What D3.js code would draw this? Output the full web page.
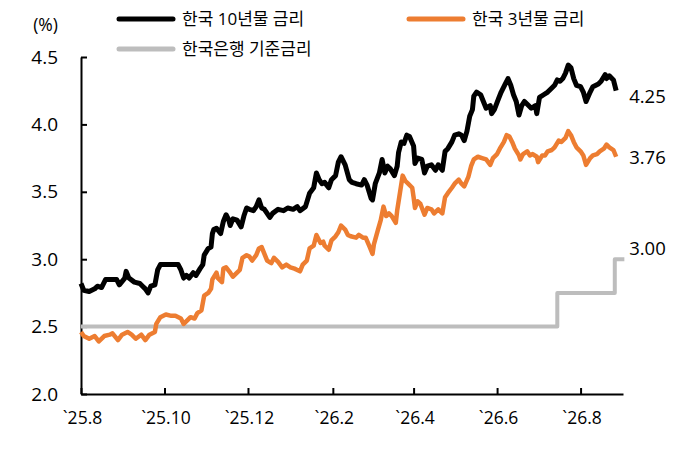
<!DOCTYPE html>
<html>
<head>
<meta charset="utf-8">
<script src="https://cdn.jsdelivr.net/npm/d3@7"></script>
<style>
  body { margin: 0; background: #fff; }
  text { font-family: "Open Sans", "Noto Sans CJK KR", sans-serif; fill: #000; }
</style>
</head>
<body>
<div id="chart"></div>
<script>
// Series names / colours
const seriesNames = ["한국 10년물 금리", "한국 3년물 금리", "한국은행 기준금리"];
const seriesColors = ["#000000", "#ed7d31", "#bdbdbd"];

// 한국 10년물 금리
const dates10y = [
  "2025-08-01","2025-08-03","2025-08-07","2025-08-11","2025-08-13","2025-08-16","2025-08-19","2025-08-23","2025-08-27","2025-08-29",
  "2025-09-02","2025-09-03","2025-09-05","2025-09-09","2025-09-13","2025-09-15","2025-09-17","2025-09-19","2025-09-21","2025-09-24","2025-09-26","2025-09-28",
  "2025-10-02","2025-10-07","2025-10-11","2025-10-13","2025-10-15","2025-10-17","2025-10-19","2025-10-22","2025-10-24","2025-10-27","2025-10-29","2025-10-30",
  "2025-11-02","2025-11-04","2025-11-05","2025-11-06","2025-11-08","2025-11-11","2025-11-13","2025-11-15","2025-11-17","2025-11-18","2025-11-20","2025-11-23","2025-11-26","2025-11-28","2025-11-30",
  "2025-12-02","2025-12-05","2025-12-07","2025-12-09","2025-12-11","2025-12-13","2025-12-17","2025-12-19","2025-12-23","2025-12-27","2025-12-30",
  "2026-01-03","2026-01-06","2026-01-08","2026-01-12","2026-01-15","2026-01-18","2026-01-20","2026-01-22","2026-01-24","2026-01-26","2026-01-29","2026-01-31",
  "2026-02-03","2026-02-05","2026-02-07","2026-02-10","2026-02-13","2026-02-15","2026-02-18","2026-02-22","2026-02-24","2026-02-26",
  "2026-03-01","2026-03-02","2026-03-04","2026-03-07","2026-03-09","2026-03-11","2026-03-13","2026-03-15","2026-03-18","2026-03-20","2026-03-21","2026-03-23","2026-03-25","2026-03-27","2026-03-29",
  "2026-04-01","2026-04-02","2026-04-04","2026-04-07","2026-04-09","2026-04-11","2026-04-14","2026-04-17","2026-04-19","2026-04-22","2026-04-24","2026-04-26","2026-04-29",
  "2026-05-01","2026-05-04","2026-05-06","2026-05-08","2026-05-10","2026-05-12","2026-05-14","2026-05-15","2026-05-17","2026-05-20","2026-05-22","2026-05-24","2026-05-27","2026-05-28","2026-05-30",
  "2026-06-02","2026-06-04","2026-06-07","2026-06-09","2026-06-11","2026-06-13","2026-06-15","2026-06-17","2026-06-19","2026-06-21","2026-06-24","2026-06-26","2026-06-29","2026-06-30",
  "2026-07-02","2026-07-05","2026-07-08","2026-07-11","2026-07-13","2026-07-15","2026-07-17","2026-07-19","2026-07-21","2026-07-23","2026-07-25","2026-07-27","2026-07-29",
  "2026-08-01","2026-08-03","2026-08-05","2026-08-08","2026-08-10","2026-08-14","2026-08-16","2026-08-19","2026-08-20","2026-08-22","2026-08-25","2026-08-27"
];
const yield10y = [
  2.82,2.77,2.76,2.78,2.80,2.79,2.85,2.85,2.85,2.81,
  2.86,2.91,2.86,2.83,2.82,2.80,2.78,2.75,2.80,2.81,2.92,2.96,
  2.96,2.96,2.96,2.92,2.86,2.88,2.86,2.90,2.88,2.93,2.96,3.03,
  3.08,3.09,3.19,3.22,3.23,3.19,3.28,3.33,3.29,3.25,3.30,3.29,3.24,3.32,3.38,
  3.37,3.36,3.39,3.44,3.38,3.37,3.31,3.34,3.37,3.36,3.38,
  3.37,3.39,3.36,3.39,3.49,3.53,3.64,3.59,3.56,3.57,3.53,3.59,
  3.62,3.72,3.76,3.70,3.59,3.57,3.56,3.55,3.59,3.55,
  3.45,3.44,3.56,3.64,3.74,3.64,3.69,3.67,3.62,3.69,3.79,3.87,3.86,3.92,3.91,
  3.84,3.71,3.75,3.74,3.64,3.69,3.70,3.66,3.70,3.66,3.80,3.82,3.87,
  3.92,3.93,3.92,3.88,3.95,4.06,4.11,4.21,4.24,4.22,4.17,4.12,4.14,4.08,4.11,
  4.19,4.24,4.30,4.34,4.29,4.22,4.17,4.07,4.14,4.17,4.14,4.12,4.14,4.08,
  4.20,4.22,4.24,4.27,4.29,4.33,4.32,4.34,4.38,4.44,4.42,4.34,4.29,
  4.28,4.24,4.17,4.24,4.28,4.30,4.32,4.37,4.34,4.36,4.33,4.25
];

// 한국 3년물 금리
const dates3y = [
  "2025-08-01","2025-08-03","2025-08-07","2025-08-11","2025-08-14","2025-08-18","2025-08-22","2025-08-24","2025-08-28","2025-08-31",
  "2025-09-04","2025-09-07","2025-09-10","2025-09-14","2025-09-17","2025-09-20","2025-09-24","2025-09-25","2025-09-28",
  "2025-10-02","2025-10-06","2025-10-09","2025-10-13","2025-10-15","2025-10-18","2025-10-20","2025-10-23","2025-10-25","2025-10-28","2025-10-30",
  "2025-11-02","2025-11-04","2025-11-05","2025-11-08","2025-11-09","2025-11-12","2025-11-13","2025-11-15","2025-11-18","2025-11-20","2025-11-23","2025-11-25","2025-11-27","2025-11-30",
  "2025-12-02","2025-12-04","2025-12-07","2025-12-09","2025-12-11","2025-12-13","2025-12-15","2025-12-18","2025-12-20","2025-12-23","2025-12-26","2025-12-29",
  "2026-01-01","2026-01-04","2026-01-06","2026-01-08","2026-01-10","2026-01-13","2026-01-15","2026-01-18","2026-01-20","2026-01-23","2026-01-25","2026-01-26","2026-01-29","2026-01-31",
  "2026-02-03","2026-02-05","2026-02-07","2026-02-10","2026-02-12","2026-02-14","2026-02-18","2026-02-20","2026-02-23","2026-02-25","2026-02-28",
  "2026-03-02","2026-03-03","2026-03-06","2026-03-08","2026-03-10","2026-03-12","2026-03-14","2026-03-16","2026-03-19","2026-03-20","2026-03-22","2026-03-24","2026-03-26","2026-03-28","2026-03-31",
  "2026-04-01","2026-04-02","2026-04-04","2026-04-06","2026-04-09","2026-04-11","2026-04-14","2026-04-16","2026-04-19","2026-04-22","2026-04-24","2026-04-26","2026-04-29",
  "2026-05-01","2026-05-04","2026-05-06","2026-05-08","2026-05-11","2026-05-13","2026-05-15","2026-05-18","2026-05-21","2026-05-24","2026-05-27","2026-05-29",
  "2026-06-01","2026-06-03","2026-06-06","2026-06-08","2026-06-10","2026-06-12","2026-06-14","2026-06-17","2026-06-18","2026-06-20","2026-06-23","2026-06-25","2026-06-27","2026-06-30",
  "2026-07-01","2026-07-04","2026-07-06","2026-07-08","2026-07-11","2026-07-13","2026-07-16","2026-07-18","2026-07-21","2026-07-23","2026-07-25","2026-07-27","2026-07-29",
  "2026-08-01","2026-08-03","2026-08-05","2026-08-08","2026-08-10","2026-08-13","2026-08-15","2026-08-18","2026-08-20","2026-08-22","2026-08-25","2026-08-27"
];
const yield3y = [
  2.46,2.43,2.41,2.43,2.39,2.43,2.44,2.45,2.40,2.44,
  2.46,2.44,2.41,2.44,2.40,2.44,2.46,2.52,2.57,
  2.59,2.58,2.58,2.56,2.52,2.55,2.57,2.56,2.60,2.62,2.73,
  2.75,2.78,2.85,2.90,2.86,2.83,2.93,2.94,2.90,2.87,2.90,2.92,3.01,3.03,
  3.02,2.99,3.03,3.08,3.09,3.04,2.99,2.97,3.01,2.98,2.94,2.96,
  2.94,2.93,2.92,2.91,2.96,2.99,3.08,3.10,3.18,3.12,3.13,3.10,3.07,3.14,
  3.17,3.20,3.25,3.22,3.18,3.17,3.16,3.18,3.16,3.16,3.09,
  3.04,3.11,3.22,3.29,3.39,3.32,3.34,3.32,3.27,3.36,3.49,3.62,3.58,3.56,3.53,
  3.46,3.38,3.43,3.41,3.33,3.38,3.37,3.34,3.37,3.34,3.46,3.49,3.53,
  3.56,3.59,3.56,3.54,3.61,3.69,3.74,3.76,3.75,3.74,3.70,3.75,
  3.78,3.82,3.87,3.92,3.91,3.87,3.82,3.77,3.74,3.78,3.80,3.77,3.78,3.76,
  3.72,3.77,3.77,3.80,3.81,3.83,3.88,3.87,3.90,3.95,3.92,3.87,3.83,
  3.80,3.77,3.70,3.75,3.77,3.78,3.80,3.82,3.85,3.83,3.81,3.76
];

// 한국은행 기준금리 (step changes)
const datesBase = ["2025-08-01", "2026-07-15", "2026-08-26", "2026-09-02"];
const baseRate = [2.50, 2.75, 3.00, 3.00];

// Axes
const yTicks = [2.0, 2.5, 3.0, 3.5, 4.0, 4.5];
const xTickDates = ["2025-08-01", "2025-10-01", "2025-12-01", "2026-02-01", "2026-04-01", "2026-06-01", "2026-08-01"];
const xTickLabels = ["`25.8", "`25.10", "`25.12", "`26.2", "`26.4", "`26.6", "`26.8"];
const endLabels = ["4.25", "3.76", "3.00"];

const parseDate = d3.timeParse("%Y-%m-%d");
const width = 691, height = 449;
const padding = {top: 57, right: 68, bottom: 55, left: 81};

const svg = d3.select("#chart").append("svg")
    .attr("width", width)
    .attr("height", height);

const xScale = d3.scaleTime()
    .domain([parseDate("2025-08-01"), parseDate("2026-09-01")])
    .range([padding.left, width - padding.right]);

const yScale = d3.scaleLinear()
    .domain([2.0, 4.5])
    .range([height - padding.bottom, padding.top]);

// X axis
const xAxis = svg.append("g")
    .attr("transform", "translate(0," + (height - padding.bottom) + ")")
    .call(d3.axisBottom(xScale)
        .tickValues(xTickDates.map(parseDate))
        .tickFormat((d, i) => xTickLabels[i])
        .tickSizeInner(-6)
        .tickSizeOuter(0)
        .tickPadding(18));
xAxis.selectAll("text").style("font-size", "17.5px").attr("dx", "1px");

// Y axis
const yAxis = svg.append("g")
    .attr("transform", "translate(" + padding.left + ",0)")
    .call(d3.axisLeft(yScale)
        .tickValues(yTicks)
        .tickFormat(d3.format(".1f"))
        .tickSizeInner(-6)
        .tickSizeOuter(0)
        .tickPadding(23));
yAxis.selectAll("text").style("font-size", "19px");

svg.selectAll(".domain, .tick line")
    .attr("stroke", "#000")
    .attr("stroke-width", 2);

// unit label
svg.append("text")
    .attr("x", padding.left - 23)
    .attr("y", 25)
    .attr("dy", "0.35em")
    .attr("text-anchor", "end")
    .style("font-size", "17.5px")
    .text("(%)");

// Lines
const seriesData = [
    {dates: dates10y, values: yield10y, curve: d3.curveLinear, width: 5, dy: 6},
    {dates: dates3y, values: yield3y, curve: d3.curveLinear, width: 4.5, dy: 1},
    {dates: datesBase, values: baseRate, curve: d3.curveStepAfter, width: 4, dy: -11}
];

// draw base rate first, then 3y, then 10y
[2, 1, 0].forEach(i => {
    const s = seriesData[i];
    const pts = s.dates.map((d, j) => [parseDate(d), s.values[j]]);
    const line = d3.line()
        .curve(s.curve)
        .x(d => xScale(d[0]))
        .y(d => yScale(d[1]));
    svg.append("path")
        .datum(pts)
        .attr("fill", "none")
        .attr("stroke", seriesColors[i])
        .attr("stroke-width", s.width)
        .attr("stroke-linejoin", "round")
        .attr("d", line);
});

// End labels
seriesData.forEach((s, i) => {
    const n = s.values.length - 1;
    const lastX = i === 2 ? xScale(parseDate(dates10y[dates10y.length - 1])) : xScale(parseDate(s.dates[n]));
    svg.append("text")
        .attr("x", lastX + 13)
        .attr("y", yScale(s.values[n]) + s.dy)
        .attr("dy", "0.35em")
        .style("font-size", "18.5px")
        .text(endLabels[i]);
});

// Legend
const legendPos = [[117, 19], [407, 19], [117, 49]];
seriesNames.forEach((name, i) => {
    const g = svg.append("g")
        .attr("transform", "translate(" + legendPos[i][0] + "," + legendPos[i][1] + ")");
    g.append("line")
        .attr("x1", 2).attr("x2", 56)
        .attr("stroke", seriesColors[i])
        .attr("stroke-width", 5)
        .attr("stroke-linecap", "round");
    g.append("text")
        .attr("x", 65)
        .attr("dy", "0.35em")
        .style("font-size", "17px")
        .text(name);
});
</script>
</body>
</html>
